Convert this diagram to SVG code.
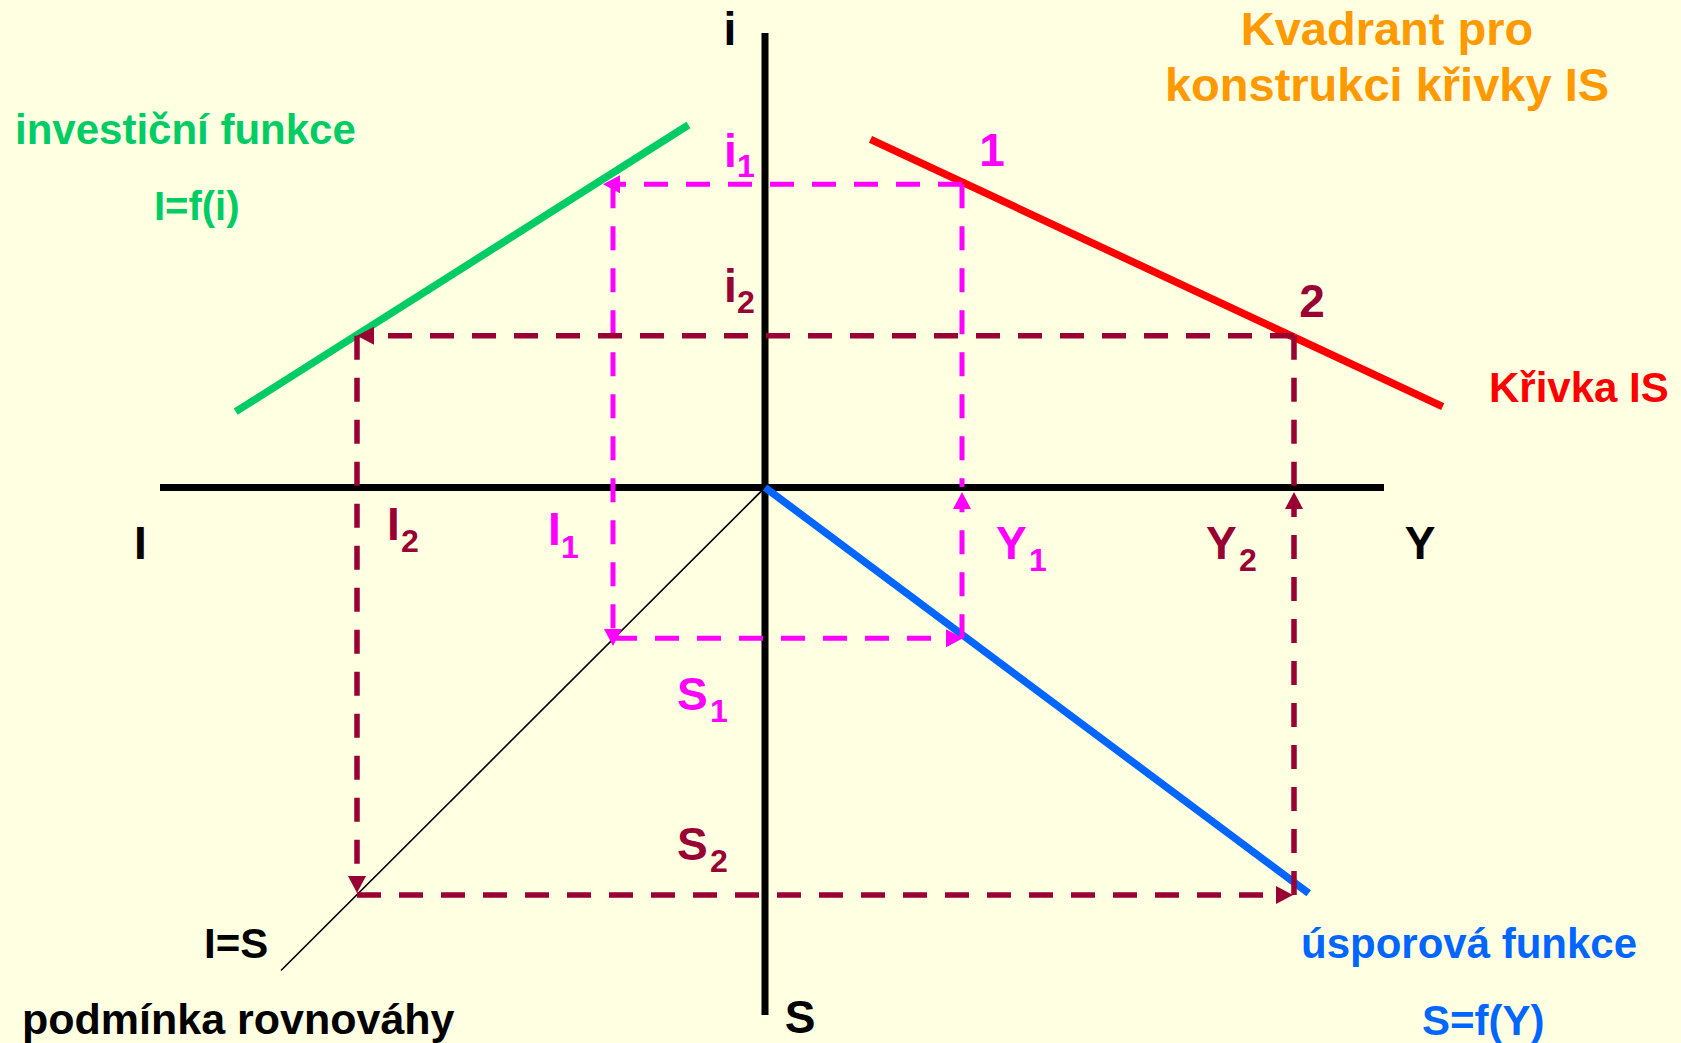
<svg xmlns="http://www.w3.org/2000/svg" width="1681" height="1043" viewBox="0 0 1681 1043">
<defs>
<style>
text{font-family:"Liberation Sans",Arial,sans-serif;font-weight:bold}
.ax{stroke:#000;stroke-width:7;fill:none}
.mg{stroke:#FF00FF;stroke-width:5;stroke-dasharray:24 18;fill:none}
.dr{stroke:#990033;stroke-width:5.5;stroke-dasharray:24 18;fill:none}
.curve{stroke-width:7.5;fill:none;stroke-linecap:butt}
.big{font-size:46px}
.sub{font-size:32px}
.lbl{font-size:42px}
</style>
<marker id="amg" markerUnits="userSpaceOnUse" markerWidth="18" markerHeight="20" refX="3" refY="9" orient="auto" viewBox="0 0 18 18">
<path d="M0,0 L17,9 L0,18 z" fill="#FF00FF"/>
</marker>
<marker id="adr" markerUnits="userSpaceOnUse" markerWidth="18" markerHeight="20" refX="3" refY="9" orient="auto" viewBox="0 0 18 18">
<path d="M0,0 L17,9 L0,18 z" fill="#990033"/>
</marker>
</defs>
<rect width="1681" height="1043" fill="#FFFFE1"/>

<g id="axes">
<line class="ax" x1="765" y1="33" x2="765" y2="1015"/>
<line class="ax" x1="160" y1="487.5" x2="1384" y2="487.5"/>
<line x1="765" y1="487.5" x2="281" y2="970.5" stroke="#000" stroke-width="1.6"/>
</g>

<g id="curves">
<line id="investment" class="curve" stroke="#00CC66" x1="235.7" y1="411.7" x2="688.4" y2="125"/>
<line id="is-curve" class="curve" stroke="#FF0000" x1="870.5" y1="139.3" x2="1442.7" y2="406.7"/>
<line id="saving" class="curve" stroke="#0066FF" x1="765" y1="487.5" x2="1308.7" y2="893.3"/>
</g>

<g id="connectors">
<line class="mg" x1="962" y1="184.3" x2="617" y2="184.3" marker-end="url(#amg)"/>
<line class="mg" x1="613" y1="184.3" x2="613" y2="632" marker-end="url(#amg)"/>
<line class="mg" x1="613" y1="638.3" x2="949" y2="638.3" marker-end="url(#amg)"/>
<line class="mg" x1="962" y1="638.3" x2="962" y2="506" marker-end="url(#amg)"/>
<line class="mg" x1="962" y1="184.3" x2="962" y2="487"/>
<line class="dr" x1="1294" y1="335.7" x2="371" y2="335.7" marker-end="url(#adr)"/>
<line class="dr" x1="357" y1="335.7" x2="357" y2="879" marker-end="url(#adr)"/>
<line class="dr" x1="357" y1="895" x2="1279" y2="895" marker-end="url(#adr)"/>
<line class="dr" x1="1294" y1="895" x2="1294" y2="506" marker-end="url(#adr)"/>
<line class="dr" x1="1294" y1="335.7" x2="1294" y2="487"/>
</g>

<g id="title">
<text x="1387" y="45" text-anchor="middle" font-size="47" fill="#FF9900">Kvadrant pro</text>
<text x="1387" y="101" text-anchor="middle" font-size="47" fill="#FF9900">konstrukci křivky IS</text>
</g>

<g id="investment-label" fill="#00CC66">
<text class="lbl" x="15" y="144">investiční funkce</text>
<text x="154" y="220" font-size="40">I=f(i)</text>
</g>

<g id="is-label"><text class="lbl" x="1489" y="402" fill="#FF0000">Křivka IS</text></g>

<g id="equilibrium-label">
<text class="lbl" x="204" y="958">I=S</text>
<text x="22" y="1034" font-size="43">podmínka rovnováhy</text>
</g>

<g id="saving-label" fill="#0066FF">
<text class="lbl" x="1301" y="958">úsporová funkce</text>
<text class="lbl" x="1422" y="1035">S=f(Y)</text>
</g>

<g id="axis-labels">
<text class="big" x="730" y="45" text-anchor="middle">i</text>
<text class="big" x="140.5" y="559" text-anchor="middle">I</text>
<text class="big" x="1420" y="559" text-anchor="middle">Y</text>
<text class="big" x="800" y="1033" text-anchor="middle">S</text>
</g>

<g id="point-labels">
<text class="big" x="992" y="166" text-anchor="middle" fill="#FF00FF">1</text>
<text class="big" x="1312" y="317" text-anchor="middle" fill="#990033">2</text>
</g>

<g id="value-labels">
<text fill="#FF00FF"><tspan class="big" x="724" y="167">i</tspan><tspan class="sub" x="737" y="177">1</tspan></text>
<text fill="#990033"><tspan class="big" x="724" y="302">i</tspan><tspan class="sub" x="737" y="313">2</tspan></text>
<text fill="#990033"><tspan class="big" x="387" y="540">I</tspan><tspan class="sub" x="401" y="552">2</tspan></text>
<text fill="#FF00FF"><tspan class="big" x="548" y="545">I</tspan><tspan class="sub" x="561" y="558">1</tspan></text>
<text fill="#FF00FF"><tspan class="big" x="996" y="559">Y</tspan><tspan class="sub" x="1029" y="571">1</tspan></text>
<text fill="#990033"><tspan class="big" x="1206" y="559">Y</tspan><tspan class="sub" x="1239" y="571">2</tspan></text>
<text fill="#FF00FF"><tspan class="big" x="677" y="710">S</tspan><tspan class="sub" x="710" y="722">1</tspan></text>
<text fill="#990033"><tspan class="big" x="677" y="860">S</tspan><tspan class="sub" x="710" y="872">2</tspan></text>
</g>
</svg>
